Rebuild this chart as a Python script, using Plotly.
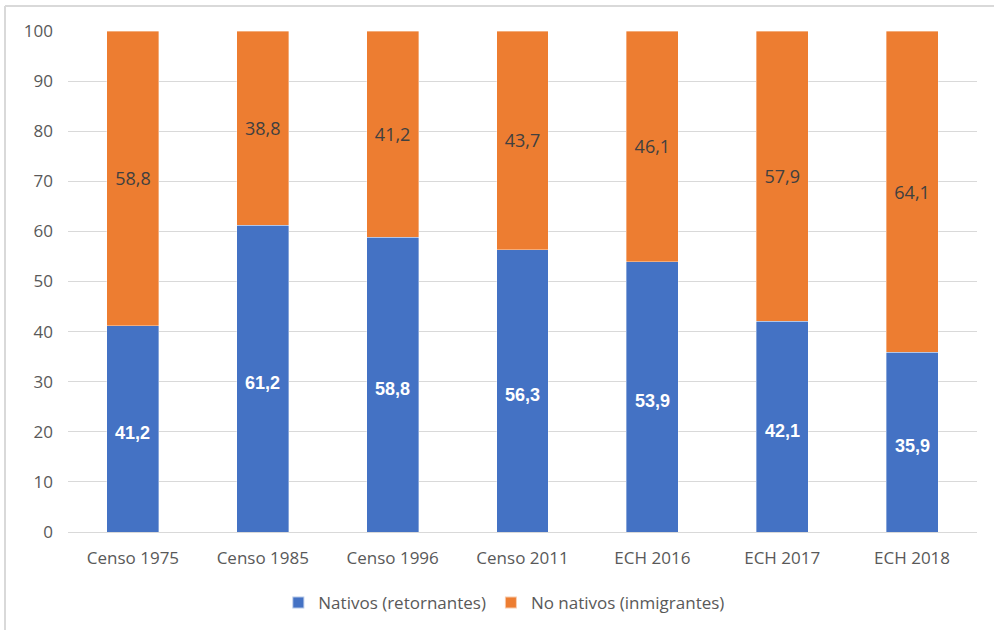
import plotly.graph_objects as go

categories = ["Censo 1975", "Censo 1985", "Censo 1996", "Censo 2011", "ECH 2016", "ECH 2017", "ECH 2018"]
nativos = [41.2, 61.2, 58.8, 56.3, 53.9, 42.1, 35.9]
no_nativos = [58.8, 38.8, 41.2, 43.7, 46.1, 57.9, 64.1]
y_ticks = [0, 10, 20, 30, 40, 50, 60, 70, 80, 90, 100]

BLUE = "#4472C4"
ORANGE = "#ED7D31"
FONT = "Open Sans, Liberation Sans, sans-serif"

def fmt(v):
    return f"{v:.1f}".replace(".", ",")

fig = go.Figure()
fig.add_trace(go.Bar(
    x=categories, y=nativos, name="Nativos (retornantes)",
    marker=dict(color=BLUE, line=dict(color="rgba(255,255,255,0.6)", width=0.6)),
    hoverinfo="skip",
))
fig.add_trace(go.Bar(
    x=categories, y=no_nativos, name="No nativos (inmigrantes)",
    marker=dict(color=ORANGE, line=dict(color="rgba(255,255,255,0.6)", width=0.6)),
    text=[fmt(v) for v in no_nativos],
    textposition="inside", insidetextanchor="middle",
    textfont=dict(family=FONT, size=18, color="#404040"),
    hoverinfo="skip",
))

# labels of the blue segments (slightly below centre as in the reference)
for c, v in zip(categories, nativos):
    fig.add_annotation(
        x=c, y=v / 2, xref="x", yref="y", text=fmt(v), showarrow=False,
        yshift=-4,
        font=dict(family="Liberation Sans, Arial, sans-serif", size=18, color="white", weight="bold"),
    )

fig.update_layout(
    barmode="stack",
    bargap=0.6,
    width=994, height=630,
    margin=dict(l=68, r=17, t=31, b=98, autoexpand=False),
    paper_bgcolor="white", plot_bgcolor="white",
    font=dict(family=FONT, size=17, color="#595959"),
    legend=dict(
        orientation="h", x=0.48, xanchor="center",
        yref="container", y=(630 - 603) / 630, yanchor="middle",
        font=dict(family=FONT, size=17, color="#595959"),
        traceorder="normal", itemwidth=30, itemsizing="constant",
    ),
    showlegend=True,
)
fig.update_xaxes(
    showgrid=False, showline=False, zeroline=False, automargin=False,
    tickfont=dict(family=FONT, size=17, color="#595959"),
    ticklabelstandoff=14,
)
fig.update_yaxes(
    range=[0, 100], tickvals=y_ticks, showgrid=True, gridcolor="#D9D9D9", gridwidth=1,
    zeroline=True, zerolinecolor="#D9D9D9", zerolinewidth=1, showline=False, automargin=False,
    tickfont=dict(family=FONT, size=17, color="#595959"),
    ticklabelstandoff=14,
)

# outer chart border (left and top visible)
pw = 994 - 68 - 17
ph = 630 - 31 - 98
def px_x(p):
    return (p - 68) / pw
def px_y(p):
    return (630 - 98 - p) / ph
fig.add_shape(type="line", xref="paper", yref="paper",
              x0=px_x(5), x1=px_x(994), y0=px_y(6), y1=px_y(6),
              line=dict(color="#D9D9D9", width=2))
fig.add_shape(type="line", xref="paper", yref="paper",
              x0=px_x(5), x1=px_x(5), y0=px_y(6), y1=px_y(630),
              line=dict(color="#D9D9D9", width=2))

fig.write_html("out.html", config={"displayModeBar": False},
               post_script="document.body.style.margin='0';document.body.style.overflow='hidden';")
